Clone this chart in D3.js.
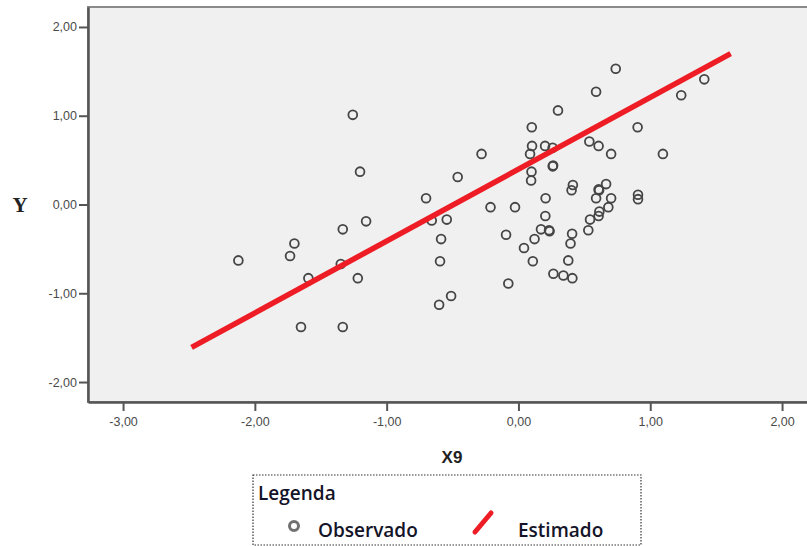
<!DOCTYPE html>
<html>
<head>
<meta charset="utf-8">
<script src="https://cdn.jsdelivr.net/npm/d3@7"></script>
<style>
  body { margin: 0; background: #fff; }
  svg { display: block; }
</style>
</head>
<body>
<script>
// Observado: X9 (x) e Y (y)
var obsX = [-1.257, -1.202, -1.156, -1.333, -1.700, -1.733, -2.125, -1.348, -1.594, -1.219, -1.650, -1.333,
            -0.701, -0.658, -0.544, -0.587, -0.595, -0.511, -0.602, -0.280, -0.461, -0.212, -0.026, -0.094, -0.077, 0.042,
            0.101, 0.103, 0.202, 0.259, 0.088, 0.260, 0.263, 0.099, 0.096, 0.300, 0.206, 0.204, 0.171, 0.232, 0.236,
            0.122, 0.109, 0.413, 0.403, 0.407, 0.395, 0.378, 0.265, 0.341, 0.409,
            0.738, 0.589, 1.410, 1.235, 0.904, 0.538, 0.608, 0.703, 1.096, 0.665, 0.608, 0.612, 0.589, 0.703,
            0.682, 0.614, 0.608, 0.543, 0.530, 0.907, 0.907];
var obsY = [1.01, 0.37, -0.19, -0.28, -0.44, -0.58, -0.63, -0.67, -0.83, -0.83, -1.38, -1.38,
            0.07, -0.18, -0.17, -0.39, -0.64, -1.03, -1.13, 0.57, 0.31, -0.03, -0.03, -0.34, -0.89, -0.49,
            0.87, 0.66, 0.66, 0.64, 0.57, 0.43, 0.44, 0.37, 0.27, 1.06, 0.07, -0.13, -0.28, -0.29, -0.30,
            -0.39, -0.64, 0.22, 0.16, -0.33, -0.44, -0.63, -0.78, -0.80, -0.83,
            1.53, 1.27, 1.41, 1.23, 0.87, 0.71, 0.66, 0.57, 0.57, 0.23, 0.17, 0.16, 0.07, 0.07,
            -0.03, -0.08, -0.13, -0.17, -0.29, 0.11, 0.06];

// Estimado: extremos da reta ajustada
var estX = [-2.48, 1.61];
var estY = [-1.61, 1.70];

var xTicks = [-3, -2, -1, 0, 1, 2];
var yTicks = [-2, -1, 0, 1, 2];

var legendTitle = 'Legenda';
var legendItems = ['Observado', 'Estimado'];

var width = 807,
    height = 546;

var plotLeft = 88, plotRight = 815, plotTop = 7, plotBottom = 402;

var svg = d3.select('body').append('svg')
  .attr('width', width)
  .attr('height', height);

var x = d3.scaleLinear().domain([-3.266, 2.25]).range([plotLeft, plotRight]);
var y = d3.scaleLinear().domain([-2.225, 2.225]).range([plotBottom, plotTop]);

var fmt = function(d) { return d.toFixed(2).replace('.', ','); };

// fundo da área do gráfico
svg.append('rect')
  .attr('x', plotLeft).attr('y', plotTop)
  .attr('width', plotRight - plotLeft).attr('height', plotBottom - plotTop)
  .attr('fill', '#f0f0f0')
  .attr('stroke', '#8a8a8a')
  .attr('stroke-width', 2);

// eixos
var xAxis = svg.append('g')
  .attr('transform', 'translate(0,' + plotBottom + ')')
  .call(d3.axisBottom(x).tickValues(xTicks).tickFormat(fmt).tickSize(9).tickSizeOuter(0).tickPadding(6));

var yAxis = svg.append('g')
  .attr('transform', 'translate(' + plotLeft + ',0)')
  .call(d3.axisLeft(y).tickValues(yTicks).tickFormat(fmt).tickSize(9).tickSizeOuter(0).tickPadding(2));

[xAxis, yAxis].forEach(function(g) {
  g.select('.domain').attr('stroke', '#555').attr('stroke-width', 2.5);
  g.selectAll('.tick line').attr('stroke', '#555').attr('stroke-width', 2);
  g.selectAll('.tick text')
    .attr('fill', '#4a4a4a')
    .attr('font-family', 'Liberation Sans, Arial, sans-serif')
    .attr('font-size', '12.5px');
});

// pontos observados
svg.append('g').selectAll('circle')
  .data(obsX)
  .enter()
  .append('circle')
  .attr('cx', function(d) { return x(d); })
  .attr('cy', function(d, i) { return y(obsY[i]); })
  .attr('r', 4.4)
  .attr('fill', 'none')
  .attr('stroke', '#454545')
  .attr('stroke-width', 1.8);

// reta estimada
svg.append('line')
  .attr('x1', x(estX[0])).attr('y1', y(estY[0]))
  .attr('x2', x(estX[1])).attr('y2', y(estY[1]))
  .attr('stroke', '#ee1c24')
  .attr('stroke-width', 5.5);

// títulos dos eixos
svg.append('text')
  .attr('x', 20).attr('y', 212)
  .attr('text-anchor', 'middle')
  .attr('font-family', 'Liberation Serif, Times New Roman, serif')
  .attr('font-weight', 'bold')
  .attr('font-size', '21px')
  .attr('fill', '#222')
  .text('Y');

svg.append('text')
  .attr('x', 452).attr('y', 463)
  .attr('text-anchor', 'middle')
  .attr('font-family', 'Liberation Sans, Arial, sans-serif')
  .attr('font-weight', 'bold')
  .attr('font-size', '17px')
  .attr('fill', '#222')
  .text('X9');

// legenda
var lg = svg.append('g');

lg.append('rect')
  .attr('x', 253).attr('y', 475)
  .attr('width', 388).attr('height', 70)
  .attr('fill', '#fff')
  .attr('stroke', '#333')
  .attr('stroke-width', 1.2)
  .attr('stroke-dasharray', '1.5,1.5');

lg.append('text')
  .attr('x', 258).attr('y', 500)
  .attr('font-family', 'Open Sans, sans-serif')
  .attr('font-weight', 600)
  .attr('font-size', '19px')
  .attr('fill', '#141428')
  .text(legendTitle);

lg.append('circle')
  .attr('cx', 294).attr('cy', 526)
  .attr('r', 4.5)
  .attr('fill', 'none')
  .attr('stroke', '#707070')
  .attr('stroke-width', 3);

lg.append('line')
  .attr('x1', 475).attr('y1', 532)
  .attr('x2', 491).attr('y2', 513)
  .attr('stroke', '#ee1c24')
  .attr('stroke-width', 5)
  .attr('stroke-linecap', 'round');

lg.selectAll('text.item')
  .data(legendItems)
  .enter()
  .append('text')
  .attr('class', 'item')
  .attr('x', function(d, i) { return i === 0 ? 318 : 518; })
  .attr('y', 537)
  .attr('font-family', 'Open Sans, sans-serif')
  .attr('font-weight', 600)
  .attr('font-size', '19px')
  .attr('fill', '#141428')
  .text(function(d) { return d; });
</script>
</body>
</html>
